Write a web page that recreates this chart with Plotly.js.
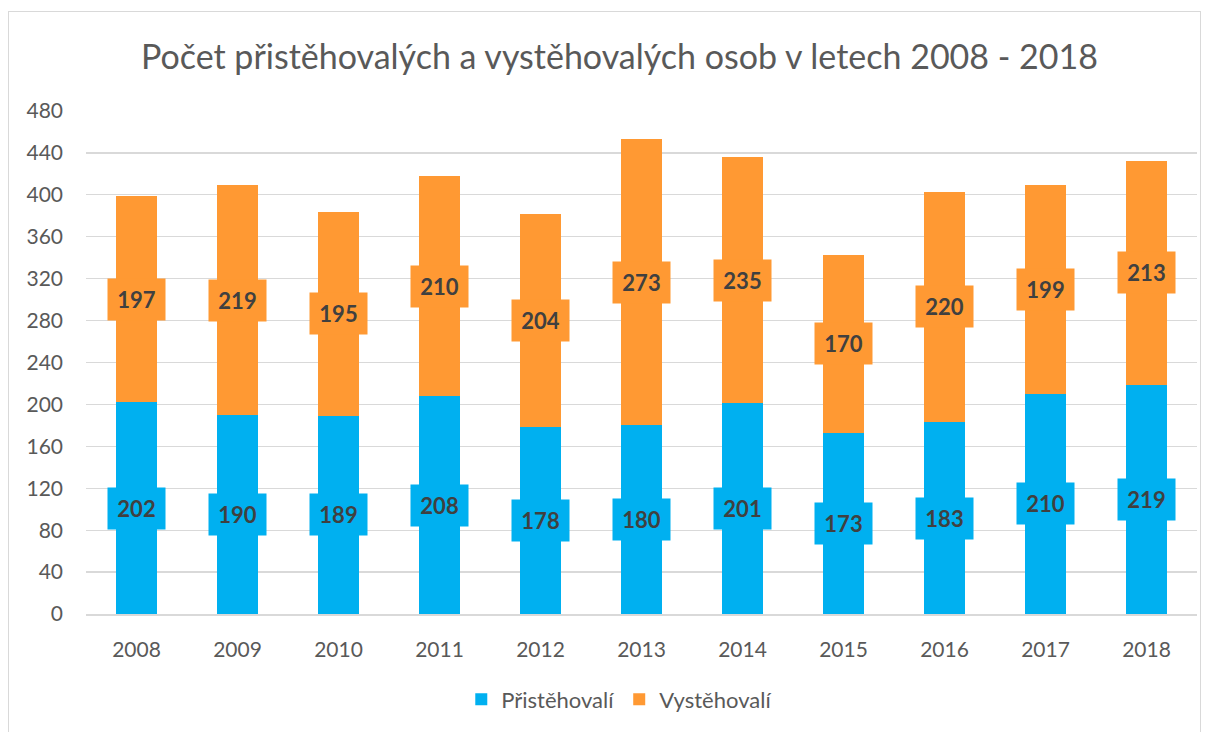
<!DOCTYPE html>
<html><head><meta charset="utf-8">
<script src="https://cdn.plot.ly/plotly-3.0.1.min.js"></script>
<style>html,body{margin:0;padding:0;background:#fff;}#frame{position:absolute;left:8px;top:11px;width:1191px;height:740px;border:1.5px solid #d9d9d9;pointer-events:none;z-index:5;}</style>
</head><body>
<div id="chart" style="width:1217px;height:732px;"></div>
<div id="frame"></div>
<script>
const years = ['2008','2009','2010','2011','2012','2013','2014','2015','2016','2017','2018'];
const prist = [202,190,189,208,178,180,201,173,183,210,219];
const vyst = [197,219,195,210,204,273,235,170,220,199,213];
const yTicks = [0,40,80,120,160,200,240,280,320,360,400,440,480];

const blue = '#00B0F0', orange = '#FF9933';
const FONT = 'Lato, "Open Sans", sans-serif';

const traces = [
  {type:'bar', name:'Přistěhovalí', x:years, y:prist, marker:{color:blue}, hoverinfo:'none'},
  {type:'bar', name:'Vystěhovalí', x:years, y:vyst, marker:{color:orange}, hoverinfo:'none'}
];

const annotations = [];
years.forEach((yr,i)=>{
  annotations.push({x:i, y:prist[i]/2, xref:'x', yref:'y', text:'<b>'+prist[i]+'</b>', showarrow:false,
    bgcolor:blue, width:57, height:41, borderpad:0, font:{family:FONT,size:22,color:'#404040'}});
  annotations.push({x:i, y:prist[i]+vyst[i]/2, xref:'x', yref:'y', text:'<b>'+vyst[i]+'</b>', showarrow:false,
    bgcolor:orange, width:57, height:41, borderpad:0, font:{family:FONT,size:22,color:'#404040'}});
});

const layout = {
  width:1217, height:732,
  barmode:'stack', bargap:0.6,
  margin:{l:86, r:20, t:111, b:115},
  paper_bgcolor:'#fff', plot_bgcolor:'#fff',
  font:{family:FONT, color:'#595959'},
  title:{text:'Počet přistěhovalých a vystěhovalých osob v letech 2008 - 2018', font:{family:FONT,size:34,color:'#595959'},
    xref:'container', x:0.509, xanchor:'center', yref:'container', y:1-57/732, yanchor:'middle'},
  xaxis:{type:'category', range:[-0.5, years.length-0.5], showgrid:false, showline:true, linecolor:'#d9d9d9', linewidth:1.5, ticks:'',
    tickfont:{family:FONT,size:21,color:'#595959'}, ticklabelstandoff:16, fixedrange:true},
  yaxis:{range:[0,480], tickvals:yTicks, ticktext:yTicks.map(String), showgrid:true, gridcolor:'#d9d9d9', gridwidth:1.3,
    zeroline:false, showline:false, ticks:'', tickfont:{family:FONT,size:21,color:'#595959'}, ticklabelstandoff:22, fixedrange:true},
  legend:{orientation:'h', x:0.48, xanchor:'center', y:(617-703)/506, yanchor:'middle', font:{family:FONT,size:22,color:'#595959'}, traceorder:'normal', itemwidth:30},
  annotations:annotations,
  showlegend:true
};

Plotly.newPlot('chart', traces, layout, {displayModeBar:false, staticPlot:true});
</script>
</body></html>
